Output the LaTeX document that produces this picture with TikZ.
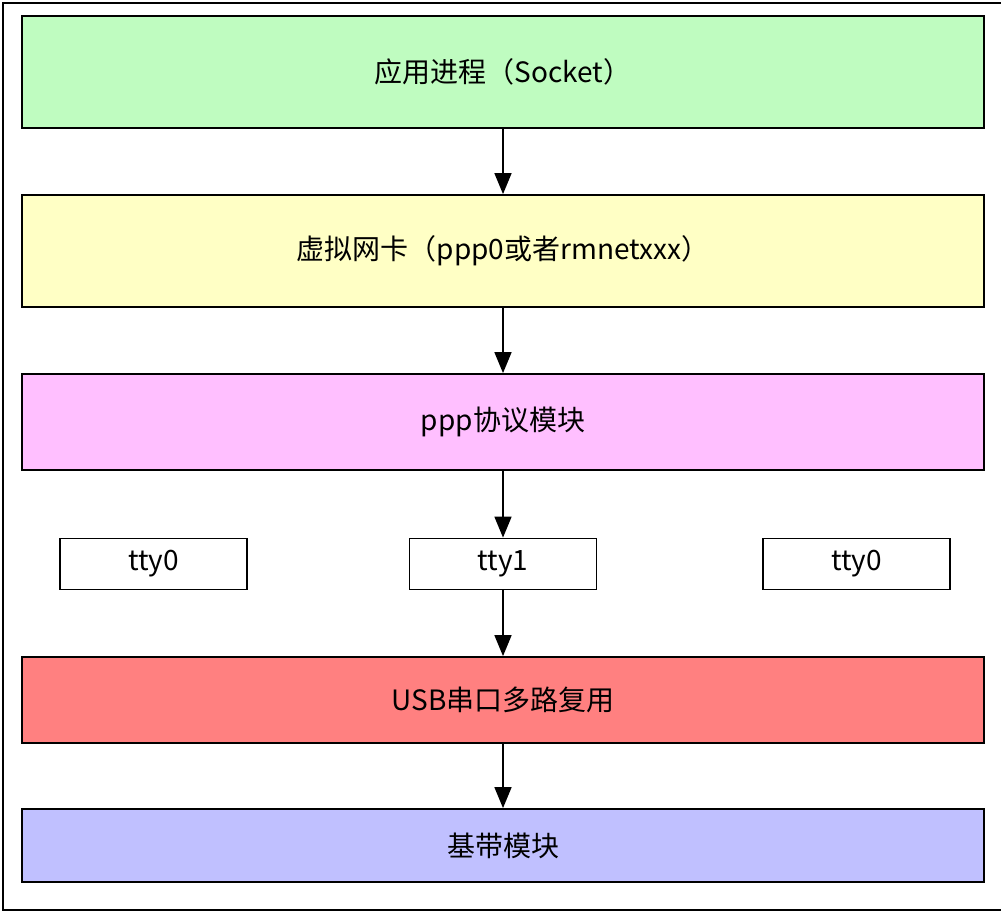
\documentclass[tikz,border=0pt]{standalone}
\usepackage{fontspec}
\setmainfont{Noto Sans CJK SC}
\usetikzlibrary{arrows.meta}
\definecolor{appgreen}{HTML}{BFFCC0}
\definecolor{nicyellow}{HTML}{FFFFC5}
\definecolor{ppppink}{HTML}{FFBFFF}
\definecolor{muxred}{HTML}{FF8080}
\definecolor{bbblue}{HTML}{C0C0FF}
\tikzset{
  layer/.style={draw,line width=1.8pt,minimum width=962pt,font=\fontsize{28}{32}\selectfont},
  ttybox/.style={draw,line width=1.8pt,fill=white,minimum width=187pt,minimum height=51pt,font=\fontsize{28}{32}\selectfont},
  flow/.style={line width=1.6pt,-{Triangle[length=21pt,width=17pt]}}
}
\begin{document}
\begin{tikzpicture}[x=1pt,y=-1pt]
  \useasboundingbox (0,0) rectangle (1001,914);
  \draw[line width=2pt] (3,3) rectangle (1003,910);
  \node[layer,fill=appgreen,minimum height=112pt] (app) at (503,72) {应用进程（Socket）};
  \node[layer,fill=nicyellow,minimum height=112pt] (nic) at (503,251) {虚拟网卡（ppp0或者rmnetxxx）};
  \node[layer,fill=ppppink,minimum height=96pt] (ppp) at (503,422) {ppp协议模块};
  \node[ttybox] (ttyl) at (153.5,564) {tty0};
  \node[ttybox] (ttym) at (503,564) {tty1};
  \node[ttybox] (ttyr) at (856.5,564) {tty0};
  \node[layer,fill=muxred,minimum height=86pt] (mux) at (503,700) {USB串口多路复用};
  \node[layer,fill=bbblue,minimum height=73pt] (bb) at (503,845.5) {基带模块};
  \draw[flow] (app) -- (nic);
  \draw[flow] (nic) -- (ppp);
  \draw[flow] (ppp) -- (ttym);
  \draw[flow] (ttym) -- (mux);
  \draw[flow] (mux) -- (bb);
\end{tikzpicture}
\end{document}
